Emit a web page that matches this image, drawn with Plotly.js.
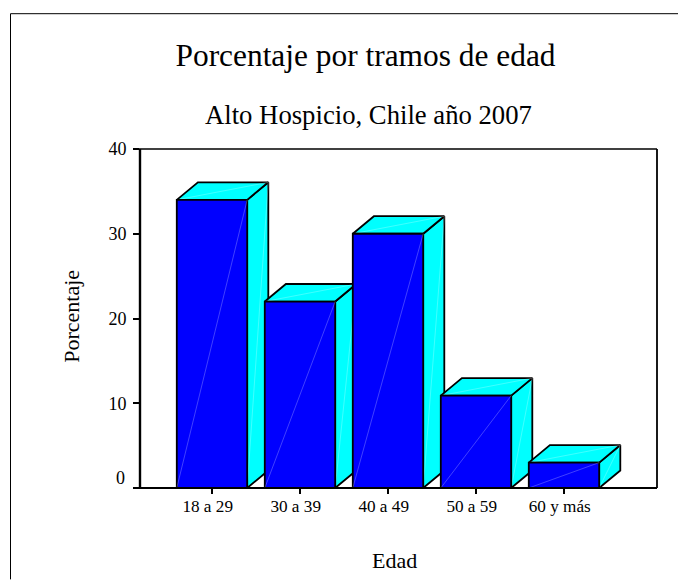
<!DOCTYPE html>
<html><head><meta charset="utf-8">
<script src="https://cdn.plot.ly/plotly-3.0.1.min.js"></script>
<style>html,body{margin:0;padding:0;background:#fff;overflow:hidden}#c{width:678px;height:580px}</style>
</head><body><div id="c"></div>
<script>
const categories = ["18 a 29","30 a 39","40 a 49","50 a 59","60 y más"];
const porcentaje = [34, 22, 30, 10.9, 3];
const yTicks = [0, 10, 20, 30, 40];
const yTickText = ["", "10", "20", "30", "40"];
const barWidth = 0.8, depthX = 0.24, depthY = 2.07;
const positions = categories.map((_, i) => i);
const serif = "'Liberation Serif','Times New Roman',serif";
const black = "#000", front = "#0000ff", faces = "#00ffff", sheen = "rgba(255,255,255,0.25)";
const traces = [];
function poly(xs, ys, fill, z) {
  traces.push({type:"scatter", mode:"lines", x:xs, y:ys, fill:"toself", fillcolor:fill,
    line:{color:black, width:1.8}, hoverinfo:"skip", showlegend:false, zorder:z});
}
function diag(xs, ys, z) {
  traces.push({type:"scatter", mode:"lines", x:xs, y:ys, line:{color:sheen, width:1},
    hoverinfo:"skip", showlegend:false, zorder:z});
}
porcentaje.forEach((v, i) => {
  const l = positions[i] - barWidth/2, r = positions[i] + barWidth/2, z = i*3;
  poly([r, r+depthX, r+depthX, r, r], [0, depthY, v+depthY, v, 0], faces, z);
  poly([l, l+depthX, r+depthX, r, l], [v, v+depthY, v+depthY, v, v], faces, z);
  diag([r, r+depthX], [0, v+depthY], z);
  diag([l, r+depthX], [v, v+depthY], z);
  traces.push({type:"bar", x:[positions[i]], y:[v], width:barWidth, name:categories[i],
    marker:{color:front, line:{color:black, width:1.8}}, showlegend:false, zorder:z+1,
    hovertemplate:categories[i]+": %{y}%<extra></extra>"});
  diag([l, r], [0, v], z+2);
});
const W = 517, H = 339.5;
function line(x0, y0, x1, y1, w) {
  return {type:"line", xref:"paper", yref:"paper", layer:"above", x0:(x0-140)/W, x1:(x1-140)/W,
    y0:(488.5-y0)/H, y1:(488.5-y1)/H, line:{color:black, width:w}};
}
function label(text, px, py, size, rot) {
  return {text, xref:"paper", yref:"paper", x:(px-140)/W, y:(488.5-py)/H, xanchor:"center", yanchor:"middle",
    showarrow:false, textangle:rot||0, font:{family:serif, size, color:black}};
}
const layout = {
  width:678, height:580, paper_bgcolor:"#fff", plot_bgcolor:"#fff", showlegend:false, barmode:"overlay",
  margin:{l:140, r:21, t:149, b:91.5},
  font:{family:serif, color:black},
  title:{text:"Porcentaje por tramos de edad", font:{family:serif, size:31.4, color:black},
    x:365.5/678, xanchor:"center", y:1-55/580, yanchor:"middle"},
  xaxis:{range:[-0.818, 5.057], tickmode:"array", tickvals:positions,
    ticktext:categories.map(c => c + "\u00a0\u00a0"),
    ticks:"outside", ticklen:5, tickwidth:1.5, tickcolor:black, ticklabelstandoff:-3,
    tickfont:{size:17.2, family:serif, color:black},
    showgrid:false, zeroline:false, showline:false},
  yaxis:{range:[0, 40], tickmode:"array", tickvals:yTicks, ticktext:yTickText,
    ticks:"outside", ticklen:6, tickwidth:1.5, tickcolor:black, ticklabelstandoff:3,
    tickfont:{size:18, family:serif, color:black},
    showgrid:false, zeroline:false, showline:false},
  annotations:[
    label("Alto Hospicio, Chile año 2007", 368, 115, 26.7),
    label("Porcentaje", 72, 317, 22, -90),
    label("Edad", 394, 561, 22),
    {text:"0", xref:"paper", yref:"paper", x:(127-140)/W, y:(488.5-478)/H, xanchor:"right", yanchor:"middle",
     showarrow:false, font:{family:serif, size:18, color:black}}
  ],
  shapes:[
    line(10.5, 13.5, 678, 13.5, 1),
    line(10.5, 13.5, 10.5, 580, 1),
    line(140, 149, 140, 488.5, 2.4),
    line(134, 149, 657, 149, 1.5),
    line(657, 149, 657, 488.5, 1.8),
    line(134, 488.5, 657, 488.5, 1.8)
  ]
};
Plotly.newPlot("c", traces, layout, {displayModeBar:false, responsive:false});
</script></body></html>
